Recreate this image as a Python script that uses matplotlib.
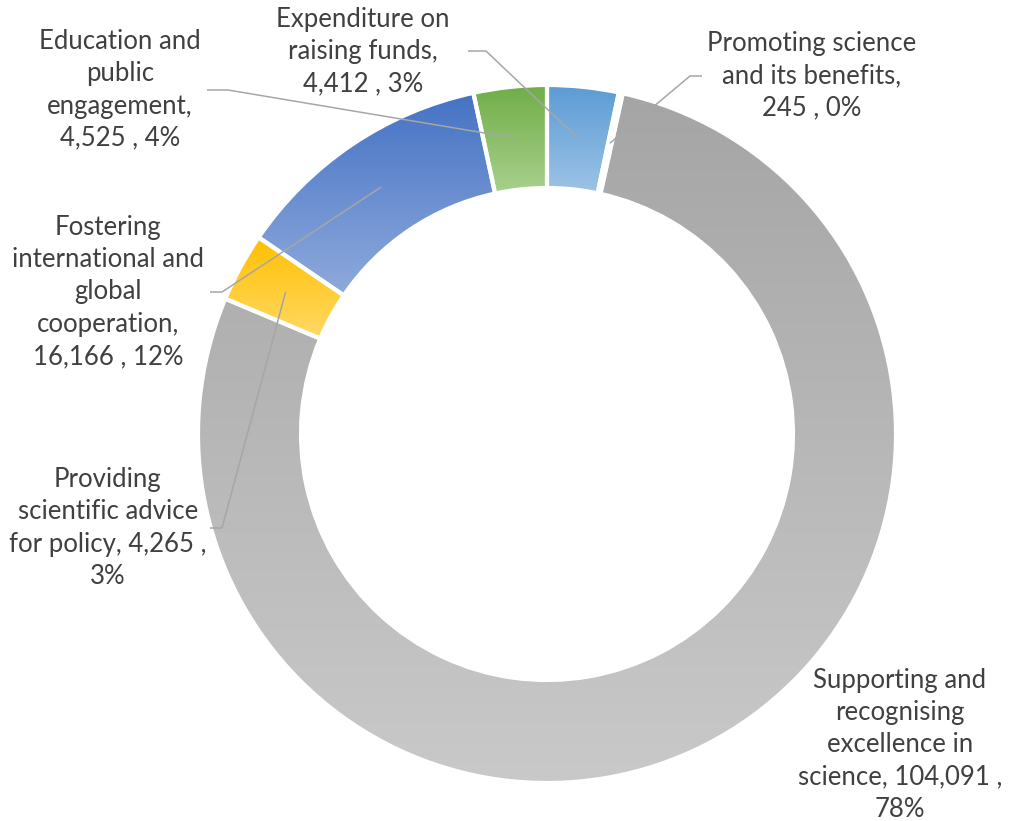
import numpy as np
import matplotlib
matplotlib.use("Agg")
import matplotlib.pyplot as plt
from matplotlib.patches import Wedge
from matplotlib.colors import to_rgb

# Budget allocation by activity (clockwise from 12 o'clock)
categories = [
    "Expenditure on\nraising funds,",
    "Promoting science\nand its benefits,",
    "Supporting and\nrecognising\nexcellence in\nscience,",
    "Providing\nscientific advice\nfor policy,",
    "Fostering\ninternational and\nglobal\ncooperation,",
    "Education and\npublic\nengagement,",
]
values = [4412, 245, 104091, 4265, 16166, 4525]
percents = [3, 0, 78, 3, 12, 4]
# separator between name and value, and between value and percent
name_value_sep = ["\n", "\n", " ", " ", "\n", "\n"]
value_pct_sep = [" , ", " , ", " ,\n", " ,\n", " , ", " , "]

# gradient colours (top, bottom) per slice
top_colors = ["#5B9BD5", "#FFFFFF", "#A5A5A5", "#FFC000", "#4472C4", "#70AD47"]
bottom_colors = ["#9DC3E6", "#FFFFFF", "#C9C9C9", "#FFD966", "#8FAADC", "#A9D18E"]

W, H = 1013, 821
fig = plt.figure(figsize=(W / 100, H / 100), dpi=100)
ax = fig.add_axes([0, 0, 1, 1])
ax.set_xlim(0, W)
ax.set_ylim(H, 0)
ax.set_aspect("equal")
ax.axis("off")

CX, CY = 547, 434
R_OUT, R_IN = 349, 246

total = float(sum(values))
angles = np.concatenate([[0], np.cumsum(values) / total * 360.0])

mid_points = []
for i, v in enumerate(values):
    a0, a1 = angles[i], angles[i + 1]
    w = Wedge((CX, CY), R_OUT, a0 - 90, a1 - 90, width=R_OUT - R_IN,
              facecolor="none", edgecolor="none")
    ax.add_patch(w)
    path = w.get_path().transformed(w.get_patch_transform())
    ext = path.get_extents()
    c0 = np.array(to_rgb(top_colors[i]))
    c1 = np.array(to_rgb(bottom_colors[i]))
    t = np.linspace(0, 1, 256)[:, None]
    grad = (c0 * (1 - t) + c1 * t)[:, None, :]
    im = ax.imshow(grad, extent=(ext.x0, ext.x1, ext.y1, ext.y0),
                   origin="upper", aspect="auto", interpolation="bilinear",
                   zorder=1)
    im.set_clip_path(w)
    outline = Wedge((CX, CY), R_OUT, a0 - 90, a1 - 90, width=R_OUT - R_IN,
                    facecolor="none", edgecolor="white", linewidth=3.0,
                    zorder=2)
    ax.add_patch(outline)
    am = np.deg2rad((a0 + a1) / 2 - 90)
    rm = (R_OUT + R_IN) / 2
    mid_points.append((CX + rm * np.cos(am), CY + rm * np.sin(am)))

# label placement and leader lines (start, elbow) in pixel coordinates
label_pos = [(363, 52), (812, 76), (900, 745), (108, 528), (108, 292), (120, 90)]
leader = [
    ((468, 51), (486, 51)),
    ((702, 76), (690, 76)),
    None,
    ((210, 528), (222, 528)),
    ((210, 292), (222, 292)),
    ((207, 90), (228, 90)),
]

text_color = "#404040"
line_color = "#A6A6A6"
for i, v in enumerate(values):
    txt = f"{categories[i]}{name_value_sep[i]}{v:,}{value_pct_sep[i]}{percents[i]}%"
    x, y = label_pos[i]
    ax.text(x, y, txt, ha="center", va="center", fontsize=18.5,
            family=["Lato", "DejaVu Sans"], color=text_color,
            linespacing=1.36, zorder=4)
    if leader[i] is not None:
        (sx, sy), (ex, ey) = leader[i]
        mx, my = mid_points[i]
        ax.plot([sx, ex, mx], [sy, ey, my], color=line_color, lw=1.1,
                solid_capstyle="butt", zorder=3)

fig.savefig("out.png", dpi=100, facecolor="white")
